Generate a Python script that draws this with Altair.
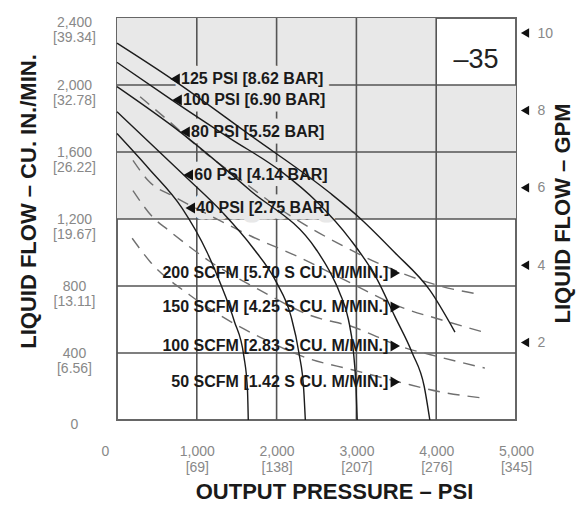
import altair as alt
import pandas as pd

# ---------------- data ----------------
# solid curves: air inlet pressure
p125_psi = [0, 690, 1670, 2670, 3045, 3480, 3920, 4235]
p125_flow = [2250, 2035, 1700, 1355, 1205, 1000, 775, 525]
p100_psi = [0, 690, 1420, 2040, 2510, 2920, 3260, 3480, 3700, 3850, 3920]
p100_flow = [2135, 1910, 1680, 1490, 1300, 1080, 840, 620, 400, 200, 0]
p80_psi = [0, 790, 1670, 2500, 2650, 2790, 2900, 2960, 2995, 3010]
p80_flow = [1990, 1720, 1370, 1015, 900, 760, 600, 420, 200, 0]
p60_psi = [0, 830, 1330, 1700, 2000, 2180, 2280, 2340, 2360]
p60_flow = [1840, 1465, 1235, 1030, 820, 620, 400, 180, 0]
p40_psi = [0, 400, 815, 1130, 1300, 1470, 1590, 1635, 1645]
p40_flow = [1710, 1500, 1265, 1000, 810, 590, 380, 180, 0]

# dashed curves: air consumption
s200_psi = [290, 660, 1040, 1480, 2170, 2790, 3550, 4050, 4550]
s200_flow = [1930, 1780, 1620, 1460, 1220, 1050, 880, 800, 750]
s150_psi = [200, 390, 730, 1170, 1670, 2290, 2920, 3550, 4050, 4590]
s150_flow = [1550, 1430, 1330, 1220, 1100, 970, 820, 675, 600, 525]
s100_psi = [200, 450, 640, 1170, 1790, 2420, 2960, 3550, 4050, 4610]
s100_flow = [1370, 1210, 1135, 945, 775, 625, 555, 440, 375, 310]
s50_psi = [190, 415, 915, 1290, 1790, 2380, 2945, 3550, 4085, 4610]
s50_flow = [1085, 945, 745, 625, 495, 370, 300, 225, 165, 130]

# labels
pressure_labels = ["125 PSI [8.62 BAR]", "100 PSI [6.90 BAR]", "80 PSI [5.52 BAR]",
                   "60 PSI [4.14 BAR]", "40 PSI [2.75 BAR]"]
pressure_label_psi = [665, 690, 790, 830, 855]
pressure_label_flow = [2036, 1910, 1719, 1463, 1266]

scfm_labels = ["200 SCFM [5.70 S CU. M/MIN.]", "150 SCFM [4.25 S CU. M/MIN.]",
               "100 SCFM [2.83 S CU. M/MIN.]", "50 SCFM [1.42 S CU. M/MIN.]"]
scfm_label_psi = [3550, 3550, 3550, 3550]
scfm_label_flow = [878, 675, 442, 227]

model_text = ["\u201335"]
model_psi = [4500]
model_flow = [2100]

# axes ticks
psi_ticks = [0, 1000, 2000, 3000, 4000, 5000]
psi_tick_main = ["0", "1,000", "2,000", "3,000", "4,000", "5,000"]
psi_tick_bar = ["", "[69]", "[138]", "[207]", "[276]", "[345]"]
flow_ticks = [0, 400, 800, 1200, 1600, 2000, 2400]
flow_tick_main = ["0", "400", "800", "1,200", "1,600", "2,000", "2,400"]
flow_tick_lpm = ["", "[6.56]", "[13.11]", "[19.67]", "[26.22]", "[32.78]", "[39.34]"]
gpm_ticks = [2, 4, 6, 8, 10]
CU_IN_PER_GAL = 231

# grid and shading
grid_psi = [1000, 2000, 3000, 4000]
grid_flow = [400, 800, 1200, 1600, 2000]
shade_psi = [0, 4000]
shade_psi2 = [4000, 5000]
shade_flow = [1200, 1200]
shade_flow2 = [2400, 2000]

# ---------------- build tables ----------------
def curves(items):
    return pd.concat([pd.DataFrame({"curve": n, "psi": x, "flow": y}) for n, x, y in items],
                     ignore_index=True)

solid_df = curves([("125", p125_psi, p125_flow), ("100", p100_psi, p100_flow),
                   ("80", p80_psi, p80_flow), ("60", p60_psi, p60_flow),
                   ("40", p40_psi, p40_flow)])
dashed_df = curves([("200", s200_psi, s200_flow), ("150", s150_psi, s150_flow),
                    ("100", s100_psi, s100_flow), ("50", s50_psi, s50_flow)])
plab_df = pd.DataFrame({"label": pressure_labels, "psi": pressure_label_psi, "flow": pressure_label_flow})
slab_df = pd.DataFrame({"label": scfm_labels, "psi": scfm_label_psi, "flow": scfm_label_flow})
model_df = pd.DataFrame({"label": model_text, "psi": model_psi, "flow": model_flow})
shade_df = pd.DataFrame({"psi": shade_psi, "psi2": shade_psi2, "flow": shade_flow, "flow2": shade_flow2})
gv_df = pd.DataFrame({"psi": grid_psi})
gh_df = pd.DataFrame({"flow": grid_flow})
gpm_df = pd.DataFrame({"gpm": gpm_ticks})


def two_line_expr(values, first, second):
    expr = "''"
    for v, a, b in reversed(list(zip(values, first, second))):
        lab = f"['{a}', '{b}']" if b else f"['{a}']"
        expr = f"datum.value == {v} ? {lab} : ({expr})"
    return expr


FONT = "Liberation Sans"
TXT = "#1a1a1a"
SHADE = "#e8e8e8"
LABEL_FS = 16
xs = alt.Scale(domain=[0, 5000], nice=False, zero=False)
ys = alt.Scale(domain=[0, 2400], nice=False, zero=False)

xaxis = alt.Axis(values=psi_ticks, labelExpr=two_line_expr(psi_ticks, psi_tick_main, psi_tick_bar),
                 labelFlush=False, labelOverlap=False, labelPadding=24, labelBaseline="top",
                 labelAlign="center", labelLineHeight=16, labelFontSize=14, labelColor="#888",
                 labelOffset={"condition": {"test": "datum.value == 0", "value": -12}, "value": 0},
                 ticks=False, tickSize=0, domain=False, grid=False,
                 title="OUTPUT PRESSURE \u2013 PSI", titleFontSize=22, titleFontWeight="bold",
                 titleColor=TXT, titleX=217, titleY=78, titleAlign="center",
                 titleBaseline="alphabetic")
yaxis = alt.Axis(values=flow_ticks, labelExpr=two_line_expr(flow_ticks, flow_tick_main, flow_tick_lpm),
                 labelFlush=False, labelOverlap=False, labelPadding=43, labelAlign="center",
                 labelBaseline="middle", labelLineHeight=15, labelFontSize=14, labelColor="#888",
                 labelOffset={"condition": {"test": "datum.value == 0 || datum.value == 2400", "value": 4},
                              "value": 0},
                 ticks=False, tickSize=0, domain=False, grid=False,
                 title="LIQUID FLOW \u2013 CU. IN./MIN.", titleFontSize=22, titleFontWeight="bold",
                 titleColor=TXT, titleAngle=270, titleX=-89, titleY=183, titleAlign="center",
                 titleBaseline="middle")

X = alt.X("psi:Q", scale=xs)
Y = alt.Y("flow:Q", scale=ys)

shade = alt.Chart(shade_df).mark_rect(color=SHADE).encode(
    x=alt.X("psi:Q", scale=xs, axis=xaxis), x2="psi2:Q",
    y=alt.Y("flow:Q", scale=ys, axis=yaxis), y2="flow2:Q")

grid_v = alt.Chart(gv_df).mark_rule(color="#555", strokeWidth=1.6).encode(x=X)
grid_h = alt.Chart(gh_df).mark_rule(color="#555", strokeWidth=1.6).encode(y=Y)

# label backgrounds (halo in the shading colour) hide the grid behind the pressure labels
p_halo = alt.Chart(plab_df).mark_text(align="left", baseline="middle", dx=11, fontSize=LABEL_FS,
                                      fontWeight="bold", color=SHADE, stroke=SHADE,
                                      strokeWidth=13, strokeJoin="round", font=FONT).encode(
    x=X, y=Y, text="label:N")

dashed = alt.Chart(dashed_df).mark_line(color="#707070", strokeWidth=1.4, strokeDash=[12, 8],
                                        interpolate="monotone").encode(
    x=X, y=Y, detail="curve:N")
solid = alt.Chart(solid_df).mark_line(color="#1c1c1c", strokeWidth=1.4,
                                      interpolate="monotone").encode(
    x=X, y=Y, detail="curve:N")

p_arrow = alt.Chart(plab_df).mark_point(shape="triangle-left", filled=True, color="#111",
                                        opacity=1, size=120, xOffset=5).encode(x=X, y=Y)
p_text = alt.Chart(plab_df).mark_text(align="left", baseline="middle", dx=11, fontSize=LABEL_FS,
                                      fontWeight="bold", color=TXT, font=FONT).encode(
    x=X, y=Y, text="label:N")

s_arrow = alt.Chart(slab_df).mark_point(shape="triangle-right", filled=True, color="#111",
                                        opacity=1, size=120, xOffset=-5).encode(x=X, y=Y)
s_text = alt.Chart(slab_df).mark_text(align="right", baseline="middle", dx=-12, fontSize=LABEL_FS,
                                      fontWeight="bold", color=TXT, font=FONT).encode(
    x=X, y=Y, text="label:N")

model = alt.Chart(model_df).mark_text(align="center", baseline="alphabetic", fontSize=27,
                                      color="#222", font=FONT).encode(
    x=X, y=Y, text="label:N")

main = alt.layer(shade, grid_v, grid_h, p_halo, dashed, solid, p_arrow, p_text,
                 s_arrow, s_text, model)

gpm_axis = alt.Axis(orient="right", values=gpm_ticks, labelPadding=21, labelAlign="left",
                    labelBaseline="middle", labelFontSize=14, labelColor="#888",
                    ticks=False, tickSize=0, domain=False, grid=False, labelOverlap=False,
                    title="LIQUID FLOW \u2013 GPM", titleFontSize=22, titleFontWeight="bold",
                    titleColor=TXT, titleAngle=270, titleX=46, titleY=195, titleAlign="center",
                    titleBaseline="middle")
right = alt.Chart(gpm_df).mark_point(shape="triangle-left", filled=True, color="#111",
                                     opacity=1, size=90).encode(
    x=alt.value(408),
    y=alt.Y("gpm:Q", scale=alt.Scale(domain=[0, 2400 / CU_IN_PER_GAL], nice=False, zero=False),
            axis=gpm_axis))

chart = alt.layer(main, right).resolve_scale(y="independent").properties(
    width=399, height=402,
    padding={"left": 109, "top": 10, "right": 63, "bottom": 82},
    autosize=alt.AutoSizeParams(type="none"),
    background="white",
).configure(font=FONT).configure_view(stroke="#666", strokeWidth=2)

chart.save("out.html", embed_options={"renderer": "svg", "actions": False})
